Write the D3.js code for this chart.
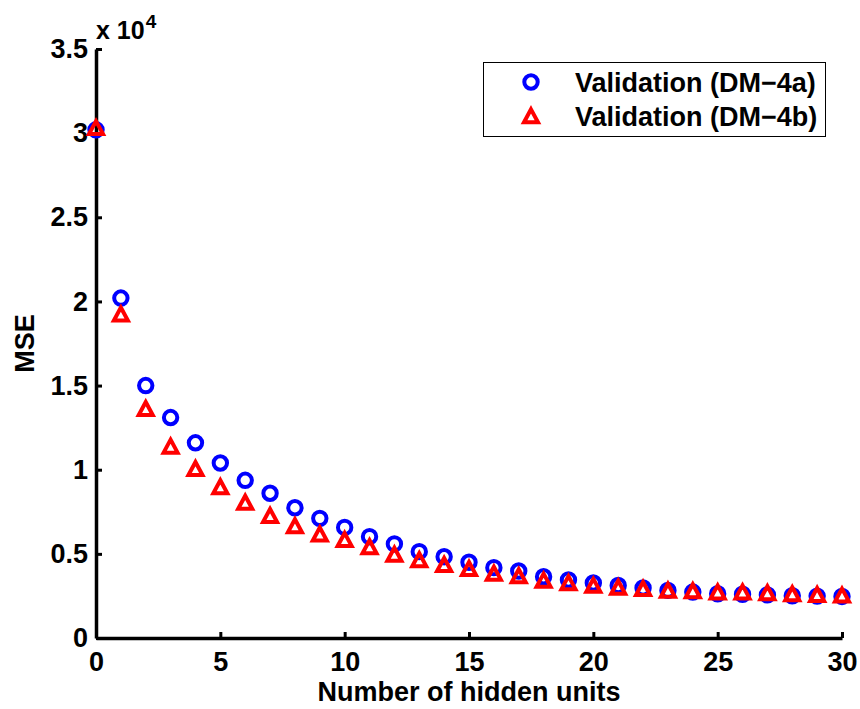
<!DOCTYPE html>
<html>
<head>
<meta charset="utf-8">
<script src="https://cdn.jsdelivr.net/npm/d3@7"></script>
<style>
  html, body { margin: 0; padding: 0; background: #fff; }
  svg { display: block; font-family: "Liberation Sans", Arial, Helvetica, sans-serif; font-weight: bold; }
</style>
</head>
<body>
<svg id="chart" width="860" height="709"></svg>
<script>
// Number of hidden units tried
const hiddenUnits = [0, 1, 2, 3, 4, 5, 6, 7, 8, 9, 10, 11, 12, 13, 14, 15,
                     16, 17, 18, 19, 20, 21, 22, 23, 24, 25, 26, 27, 28, 29, 30];

// Validation MSE, model DM-4a
const mseDM4a = [30200, 20200, 15000, 13100, 11600, 10400, 9370, 8600, 7740, 7110,
                 6570, 6020, 5590, 5130, 4830, 4500, 4180, 3980, 3640, 3450,
                 3270, 3120, 2970, 2830, 2730, 2630, 2600, 2560, 2510, 2490, 2470];

// Validation MSE, model DM-4b
const mseDM4b = [30200, 19120, 13510, 11270, 9940, 8860, 7940, 7150, 6540, 6050,
                 5720, 5290, 4850, 4520, 4240, 4000, 3720, 3570, 3310, 3160,
                 3000, 2890, 2810, 2710, 2680, 2610, 2610, 2560, 2500, 2460, 2420];

const seriesNames = ["Validation (DM\u22124a)", "Validation (DM\u22124b)"];
const xTicks = [0, 5, 10, 15, 20, 25, 30];
const yTicks = [0, 5000, 10000, 15000, 20000, 25000, 30000, 35000];
const yExponent = 4;

const svg = d3.select("#chart");
const plotLeft = 96, plotRight = 842, plotTop = 49, plotBottom = 638;

const x = d3.scaleLinear().domain([0, 30]).range([plotLeft, plotRight]);
const y = d3.scaleLinear().domain([0, 35000]).range([plotBottom, plotTop]);

const fontSize = 27;

// Axes with inward ticks
const yAxis = d3.axisLeft(y)
  .tickValues(yTicks)
  .tickFormat(d => d3.format("~g")(d / Math.pow(10, yExponent)))
  .tickSizeInner(-6).tickSizeOuter(0).tickPadding(8);

const xAxis = d3.axisBottom(x)
  .tickValues(xTicks)
  .tickFormat(d3.format("d"))
  .tickSizeInner(-6).tickSizeOuter(0).tickPadding(14);

function styleAxis(g) {
  g.attr("font-family", null).attr("font-size", null);
  g.select(".domain").attr("stroke", "#000").attr("stroke-width", 3.5);
  g.selectAll(".tick line").attr("stroke", "#000").attr("stroke-width", 3);
  g.selectAll(".tick text").attr("fill", "#000").style("font-size", fontSize + "px");
}

svg.append("g").attr("transform", `translate(0,${plotBottom})`).call(xAxis).call(styleAxis);
svg.append("g").attr("transform", `translate(${plotLeft},0)`).call(yAxis).call(styleAxis);

// Exponent multiplier above the y axis
const expo = svg.append("text")
  .attr("x", plotLeft).attr("y", 38.5)
  .style("font-size", "25px");
expo.append("tspan").text("x 10");
expo.append("tspan").attr("dx", 1).attr("dy", -11).style("font-size", "19px").text(yExponent);

// Axis titles
svg.append("text")
  .attr("transform", `translate(34,${(plotTop + plotBottom) / 2}) rotate(-90)`)
  .attr("text-anchor", "middle")
  .style("font-size", fontSize + "px")
  .text("MSE");

svg.append("text")
  .attr("x", (plotLeft + plotRight) / 2).attr("y", 701)
  .attr("text-anchor", "middle")
  .style("font-size", fontSize + "px")
  .text("Number of hidden units");

// Marker shapes
const circleR = 6.7;
const triW = 7, triH = 13;
const triPath = `M0,${-2 * triH / 3}L${triW},${triH / 3}L${-triW},${triH / 3}Z`;

function drawCircles(g, pts) {
  g.selectAll("circle").data(pts).join("circle")
    .attr("cx", d => x(d[0])).attr("cy", d => y(d[1])).attr("r", circleR)
    .attr("fill", "none").attr("stroke", "#0000ff").attr("stroke-width", 4);
}
function drawTriangles(g, pts) {
  g.selectAll("path").data(pts).join("path")
    .attr("transform", d => `translate(${x(d[0])},${y(d[1])})`)
    .attr("d", triPath)
    .attr("fill", "none").attr("stroke", "#ff0000").attr("stroke-width", 4)
    .attr("stroke-linejoin", "miter");
}

drawCircles(svg.append("g"), hiddenUnits.map((u, i) => [u, mseDM4a[i]]));
drawTriangles(svg.append("g"), hiddenUnits.map((u, i) => [u, mseDM4b[i]]));

// Legend
const legend = svg.append("g");
legend.append("rect")
  .attr("x", 483.5).attr("y", 62.5).attr("width", 342).attr("height", 74)
  .attr("fill", "#fff").attr("stroke", "#000").attr("stroke-width", 1);

legend.append("circle")
  .attr("cx", 531).attr("cy", 82).attr("r", circleR)
  .attr("fill", "none").attr("stroke", "#0000ff").attr("stroke-width", 4);
legend.append("path")
  .attr("transform", "translate(531,118)")
  .attr("d", triPath)
  .attr("fill", "none").attr("stroke", "#ff0000").attr("stroke-width", 4);

legend.selectAll("text.lbl").data(seriesNames).join("text")
  .attr("class", "lbl")
  .attr("x", 575).attr("y", (d, i) => [91.5, 126][i])
  .style("font-size", fontSize + "px")
  .text(d => d);
</script>
</body>
</html>
